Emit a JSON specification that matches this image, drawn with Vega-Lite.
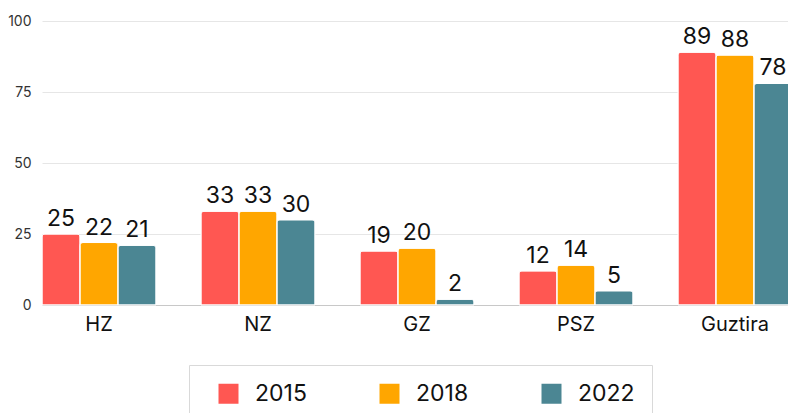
{
  "$schema": "https://vega.github.io/schema/vega-lite/v6.json",
  "width": 746,
  "height": 284,
  "autosize": {"type": "none"},
  "padding": {"left": 42, "top": 21, "right": 0, "bottom": 108},
  "background": "white",
  "config": {"view": {"stroke": null}, "font": "Inter"},
  "data": {
    "values": [
      {"cat": "HZ", "year": "2015", "value": 25},
      {"cat": "HZ", "year": "2018", "value": 22},
      {"cat": "HZ", "year": "2022", "value": 21},
      {"cat": "NZ", "year": "2015", "value": 33},
      {"cat": "NZ", "year": "2018", "value": 33},
      {"cat": "NZ", "year": "2022", "value": 30},
      {"cat": "GZ", "year": "2015", "value": 19},
      {"cat": "GZ", "year": "2018", "value": 20},
      {"cat": "GZ", "year": "2022", "value": 2},
      {"cat": "PSZ", "year": "2015", "value": 12},
      {"cat": "PSZ", "year": "2018", "value": 14},
      {"cat": "PSZ", "year": "2022", "value": 5},
      {"cat": "Guztira", "year": "2015", "value": 89},
      {"cat": "Guztira", "year": "2018", "value": 88},
      {"cat": "Guztira", "year": "2022", "value": 78}
    ]
  },
  "encoding": {
    "x": {
      "field": "cat", "type": "nominal",
      "sort": ["HZ", "NZ", "GZ", "PSZ", "Guztira"],
      "scale": {"paddingInner": 0.283, "paddingOuter": 0, "range": [0, 750]},
      "axis": {"title": null, "labelAngle": 0, "labelFontSize": 20, "labelColor": "#111111", "ticks": false, "domainColor": "#c8c8c8", "labelPadding": 9, "grid": false}
    },
    "xOffset": {"field": "year", "type": "nominal"},
    "y": {
      "field": "value", "type": "quantitative",
      "scale": {"domain": [0, 100]},
      "axis": {"values": [0, 25, 50, 75, 100], "title": null, "domain": false, "ticks": false, "labelFontSize": 14, "labelColor": "#333333", "labelPadding": 11, "gridColor": "#e6e6e6"}
    }
  },
  "layer": [
    {
      "mark": {"type": "bar", "cornerRadiusTopLeft": 3, "cornerRadiusTopRight": 3, "stroke": "white", "strokeWidth": 1},
      "encoding": {
        "color": {
          "field": "year", "type": "nominal",
          "scale": {"domain": ["2015", "2018", "2022"], "range": ["#FF5752", "#FFA600", "#4B8693"]},
          "legend": {
            "title": null, "orient": "none", "legendX": 147, "legendY": 344,
            "direction": "horizontal", "columns": 3,
            "symbolType": "square", "symbolSize": 400, "symbolStrokeWidth": 0,
            "labelFontSize": 23, "labelColor": "#111111", "labelOffset": 15,
            "padding": 17, "symbolOffset": 11,
            "strokeColor": "#d9d9d9", "fillColor": "white",
            "columnPadding": 60,
            "encode": {"legend": {"update": {"strokeWidth": {"value": 2}}}}
          }
        }
      }
    },
    {
      "mark": {"type": "text", "dy": -8, "baseline": "alphabetic", "fontSize": 23, "color": "#111111"},
      "encoding": {"text": {"field": "value", "type": "quantitative"}}
    }
  ]
}
